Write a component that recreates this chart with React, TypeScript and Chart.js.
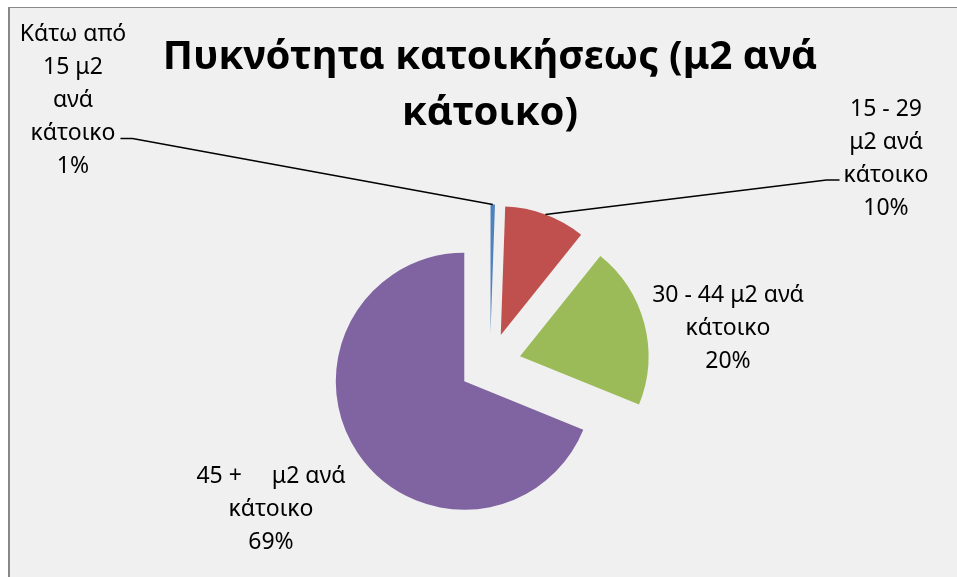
import React, { useEffect, useRef } from 'react';
import { Chart, registerables } from 'chart.js';

Chart.register(...registerables);

// ---- data ----
const categories = [
  'Κάτω από 15 μ2 ανά κάτοικο',
  '15 - 29 μ2 ανά κάτοικο',
  '30 - 44 μ2 ανά κάτοικο',
  '45 +     μ2 ανά κάτοικο',
];
const values = [0.55, 10.2, 20.4, 68.85];
const labelLines = [
  ['Κάτω από', '15 μ2', 'ανά', 'κάτοικο'],
  ['15 - 29', 'μ2 ανά', 'κάτοικο'],
  ['30 - 44 μ2 ανά', 'κάτοικο'],
  ['45 +     μ2 ανά', 'κάτοικο'],
];
const sliceColors = ['#4f81bd', '#c0504d', '#9bbb59', '#8064a2'];
const titleLines = ['Πυκνότητα κατοικήσεως (μ2 ανά', 'κάτοικο)'];

// ---- layout / style ----
const FONT = '"Noto Sans", "Open Sans", sans-serif';
const EXPLODE = 31; // px each slice is pulled out from the centre
const RADIUS = 128.5;
const LABEL_LINE_H = 33;
// label block centre relative to the (un-exploded) pie centre, and leader settings
const labelLayout = [
  { dx: -417, dy: -257, leaderLine: 3, side: 'right' },
  { dx: 396, dy: -199, leaderLine: 2, side: 'left' },
  { dx: 238, dy: -29.5, leaderLine: -1, side: '' },
  { dx: -219, dy: 151.5, leaderLine: -1, side: '' },
];

const total = values.reduce((a, b) => a + b, 0);

// pulls every slice outward along its mid-angle (Excel "point explosion")
const explodePlugin = {
  id: 'explode',
  afterDatasetUpdate(chart: any, args: any) {
    const meta = args.meta;
    meta.data.forEach((arc: any) => {
      const mid = (arc.startAngle + arc.endAngle) / 2;
      arc._cx = arc.x;
      arc._cy = arc.y;
      arc.x = arc.x + Math.cos(mid) * EXPLODE;
      arc.y = arc.y + Math.sin(mid) * EXPLODE;
    });
  },
};

const labelPlugin = {
  id: 'excelLabels',
  afterDatasetsDraw(chart: any) {
    const ctx = chart.ctx;
    const meta = chart.getDatasetMeta(0);
    ctx.save();
    ctx.font = `23px ${FONT}`;
    ctx.fillStyle = '#000';
    ctx.textAlign = 'center';
    ctx.textBaseline = 'alphabetic';
    meta.data.forEach((arc: any, i: number) => {
      const { x, y, startAngle, endAngle, outerRadius } = arc;
      const pcx = arc._cx ?? x;
      const pcy = arc._cy ?? y;
      const lay = labelLayout[i];
      const pct = Math.round((values[i] / total) * 100) + '%';
      const lines = [...labelLines[i], pct];
      const n = lines.length;
      const cx = pcx + lay.dx;
      const cy = pcy + lay.dy;
      const baselines = lines.map((_, k) => cy + (k - (n - 1) / 2) * LABEL_LINE_H);
      lines.forEach((s, k) => ctx.fillText(s, cx, baselines[k]));

      if (lay.leaderLine >= 0) {
        const mid = (startAngle + endAngle) / 2;
        const ax = x + Math.cos(mid) * outerRadius;
        const ay = y + Math.sin(mid) * outerRadius;
        const w = ctx.measureText(lines[lay.leaderLine]).width;
        const ly = baselines[lay.leaderLine] - 1.5;
        let x0: number, x1: number;
        if (lay.side === 'right') {
          x0 = cx + w / 2 + 5;
          x1 = x0 + 12;
        } else {
          x0 = cx - w / 2 - 4;
          x1 = x0 - 13;
        }
        ctx.beginPath();
        ctx.strokeStyle = '#000';
        ctx.lineWidth = 1.5;
        ctx.moveTo(x0, ly);
        ctx.lineTo(x1, ly);
        ctx.lineTo(ax, ay);
        ctx.stroke();
      }
    });
    ctx.restore();
  },
};

export default function App() {
  const ref = useRef<HTMLCanvasElement | null>(null);
  useEffect(() => {
    if (!ref.current) return;
    const chart = new Chart(ref.current, {
      type: 'pie',
      data: {
        labels: categories,
        datasets: [
          {
            data: values,
            backgroundColor: sliceColors,
            borderWidth: 0,
            clip: false,
          } as any,
        ],
      },
      options: {
        responsive: false,
        animation: false,
        radius: RADIUS,
        layout: { padding: { top: 0, bottom: 2, left: 0, right: 0 } },
        plugins: {
          legend: { display: false },
          tooltip: { enabled: false },
          title: {
            display: true,
            text: titleLines,
            color: '#000',
            font: { family: FONT, size: 40, weight: 'bold', lineHeight: '56px' as any },
            padding: { top: 22, bottom: 0 },
          },
        },
      } as any,
      plugins: [explodePlugin, labelPlugin],
    });
    return () => chart.destroy();
  }, []);

  return (
    <div
      style={{
        position: 'fixed',
        left: 8,
        top: 7,
        width: 949,
        height: 570,
        overflow: 'hidden',
        background: '#f0f0f0',
        borderLeft: '2px solid #888',
        borderTop: '1px solid #888',
      }}
    >
      <canvas ref={ref} width={960} height={580} style={{ display: 'block' }} />
    </div>
  );
}
